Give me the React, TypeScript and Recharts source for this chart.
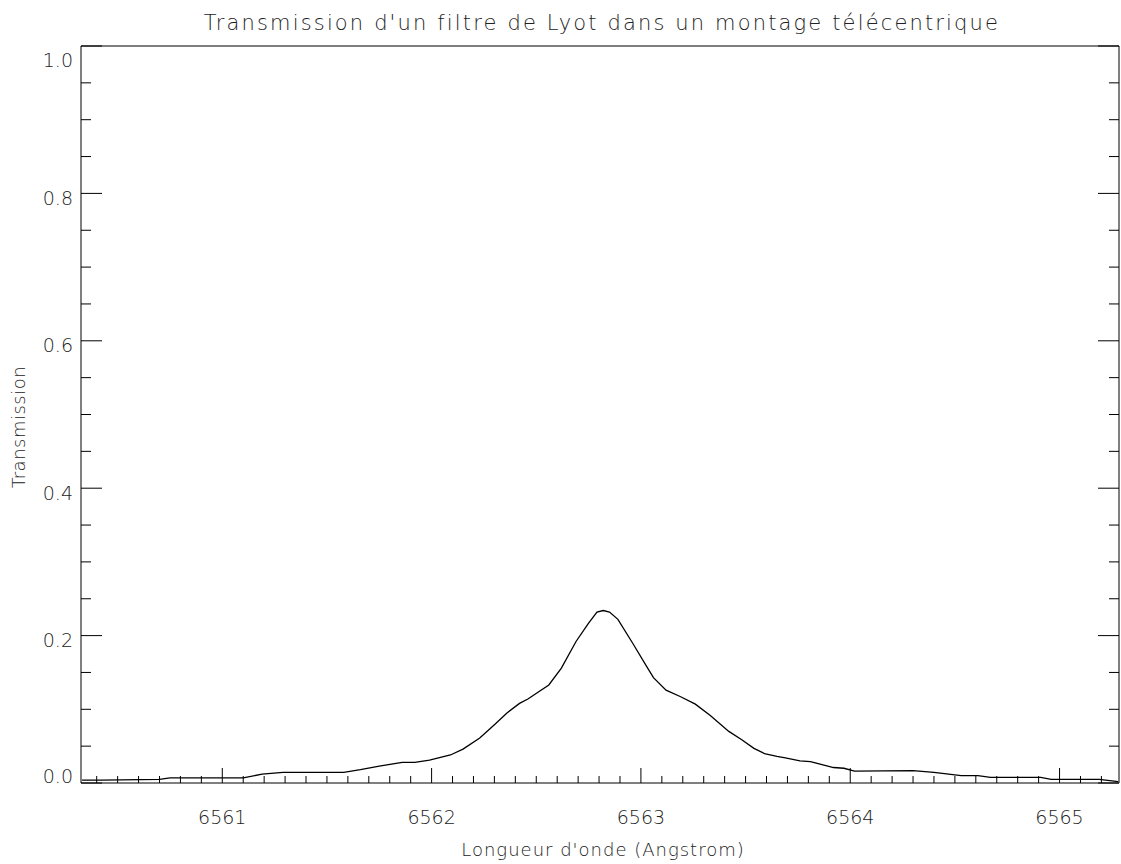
import { Line, LineChart, XAxis, YAxis } from "recharts";

// wavelength (Angstrom) and transmission
const wavelength = [
  6560.33, 6560.42, 6560.7, 6560.75, 6561.1, 6561.19, 6561.29, 6561.58, 6561.66, 6561.75,
  6561.86, 6561.92, 6561.99, 6562.09, 6562.15, 6562.23, 6562.3, 6562.36, 6562.42, 6562.46,
  6562.56, 6562.62, 6562.69, 6562.75, 6562.79, 6562.82, 6562.85, 6562.89, 6562.96, 6563.03,
  6563.06, 6563.12, 6563.19, 6563.26, 6563.33, 6563.42, 6563.48, 6563.54, 6563.59, 6563.65,
  6563.69, 6563.76, 6563.81, 6563.92, 6563.97, 6564.02, 6564.3, 6564.4, 6564.48, 6564.53,
  6564.61, 6564.67, 6564.91, 6564.96, 6565.19, 6565.28
];
const transmission = [
  0.004, 0.004, 0.005, 0.007, 0.007, 0.012, 0.0145, 0.0145, 0.018, 0.023,
  0.028, 0.028, 0.031, 0.038, 0.046, 0.061, 0.079, 0.095, 0.108, 0.114,
  0.133, 0.156, 0.192, 0.217, 0.232, 0.234, 0.232, 0.222, 0.19, 0.157,
  0.143, 0.126, 0.117, 0.107, 0.092, 0.07, 0.059, 0.047, 0.04, 0.036,
  0.034, 0.03, 0.029, 0.021, 0.02, 0.016, 0.0167, 0.0145, 0.0118, 0.0099,
  0.0099, 0.0077, 0.0077, 0.005, 0.005, 0.002
];

const xMajor = [6561, 6562, 6563, 6564, 6565];
const xTicks = [
  6560.4, 6560.5, 6560.6, 6560.7, 6560.8, 6560.9, 6561, 6561.1, 6561.2, 6561.3,
  6561.4, 6561.5, 6561.6, 6561.7, 6561.8, 6561.9, 6562, 6562.1, 6562.2, 6562.3,
  6562.4, 6562.5, 6562.6, 6562.7, 6562.8, 6562.9, 6563, 6563.1, 6563.2, 6563.3,
  6563.4, 6563.5, 6563.6, 6563.7, 6563.8, 6563.9, 6564, 6564.1, 6564.2, 6564.3,
  6564.4, 6564.5, 6564.6, 6564.7, 6564.8, 6564.9, 6565, 6565.1, 6565.2
];
const yMajor = [0, 0.2, 0.4, 0.6, 0.8, 1.0];
const yTicks = [
  0, 0.05, 0.1, 0.15, 0.2, 0.25, 0.3, 0.35, 0.4, 0.45, 0.5,
  0.55, 0.6, 0.65, 0.7, 0.75, 0.8, 0.85, 0.9, 0.95, 1.0
];

const data = wavelength.map((w, i) => ({ w, t: transmission[i] }));

const FONT = "'DejaVu Sans', 'Liberation Sans', sans-serif";
const INK = "#000";
const TXT = "#222";

const isMajor = (list: number[], v: number) => list.some((m) => Math.abs(m - v) < 1e-6);

function BottomTick(props: any) {
  const { x, y, payload } = props;
  const major = isMajor(xMajor, payload.value);
  return (
    <g>
      <line x1={x} x2={x} y1={y} y2={y - (major ? 15 : 7)} stroke={INK} />
      {major && (
        <text x={x} y={y + 41} textAnchor="middle" fontFamily={FONT} fontWeight={200} fontSize={19} fill={TXT}>
          {payload.value}
        </text>
      )}
    </g>
  );
}

function TopTick(props: any) {
  const { x, y, payload } = props;
  const major = isMajor(xMajor, payload.value);
  return <line x1={x} x2={x} y1={y} y2={y + (major ? 15 : 7)} stroke={INK} />;
}

function LeftTick(props: any) {
  const { x, y, payload } = props;
  const v = payload.value as number;
  const major = isMajor(yMajor, v);
  // IDL nudges the end labels inside the axis range
  const dy = v >= 0.999 ? 21 : v <= 0.001 ? 0 : 11.5;
  return (
    <g>
      <line x1={x} x2={x + (major ? 21 : 10)} y1={y} y2={y} stroke={INK} />
      {major && (
        <text x={x - 8} y={y + dy} textAnchor="end" fontFamily={FONT} fontWeight={200} fontSize={19} fill={TXT}>
          {v.toFixed(1)}
        </text>
      )}
    </g>
  );
}

function RightTick(props: any) {
  const { x, y, payload } = props;
  const major = isMajor(yMajor, payload.value);
  return <line x1={x} x2={x - (major ? 21 : 10)} y1={y} y2={y} stroke={INK} />;
}

export default function App() {
  return (
    <div style={{ position: "absolute", left: 0, top: 0, width: 1121, height: 864, background: "#fff" }}>
      <LineChart width={1121} height={864} data={data} margin={{ top: 45, right: 0, bottom: 0, left: 0 }}>
        <XAxis
          xAxisId="b"
          dataKey="w"
          type="number"
          domain={[6560.325, 6565.284]}
          allowDataOverflow
          ticks={xTicks}
          interval={0}
          height={81}
          tickSize={0}
          tickMargin={0}
          tickLine={false}
          axisLine={{ stroke: INK }}
          tick={<BottomTick />}
        />
        <XAxis
          xAxisId="t"
          orientation="top"
          type="number"
          domain={[6560.325, 6565.284]}
          allowDataOverflow
          ticks={xTicks}
          interval={0}
          height={1}
          tickSize={0}
          tickMargin={0}
          tickLine={false}
          axisLine={{ stroke: INK }}
          tick={<TopTick />}
        />
        <YAxis
          yAxisId="l"
          type="number"
          domain={[0, 1]}
          allowDataOverflow
          ticks={yTicks}
          interval={0}
          width={81}
          tickSize={0}
          tickMargin={0}
          tickLine={false}
          axisLine={{ stroke: INK }}
          tick={<LeftTick />}
        />
        <YAxis
          yAxisId="r"
          orientation="right"
          type="number"
          domain={[0, 1]}
          allowDataOverflow
          ticks={yTicks}
          interval={0}
          width={2}
          tickSize={0}
          tickMargin={0}
          tickLine={false}
          axisLine={{ stroke: INK }}
          tick={<RightTick />}
        />
        <Line
          xAxisId="b"
          yAxisId="l"
          dataKey="t"
          type="linear"
          stroke={INK}
          strokeWidth={1.3}
          dot={false}
          isAnimationActive={false}
        />
      </LineChart>
      <svg width={1121} height={864} style={{ position: "absolute", left: 0, top: 0, pointerEvents: "none" }}>
        <text x={602} y={30} textAnchor="middle" fontFamily={FONT} fontWeight={200} fontSize={21} letterSpacing={2.15} fill={TXT}>
          Transmission d'un filtre de Lyot dans un montage télécentrique
        </text>
        <text x={603} y={856} textAnchor="middle" fontFamily={FONT} fontWeight={200} fontSize={18} letterSpacing={1} fill={TXT}>
          Longueur d'onde (Angstrom)
        </text>
        <text
          transform="translate(25, 427) rotate(-90)"
          textAnchor="middle"
          fontFamily={FONT}
          fontWeight={200}
          fontSize={18}
          letterSpacing={0.5}
          fill={TXT}
        >
          Transmission
        </text>
      </svg>
    </div>
  );
}
